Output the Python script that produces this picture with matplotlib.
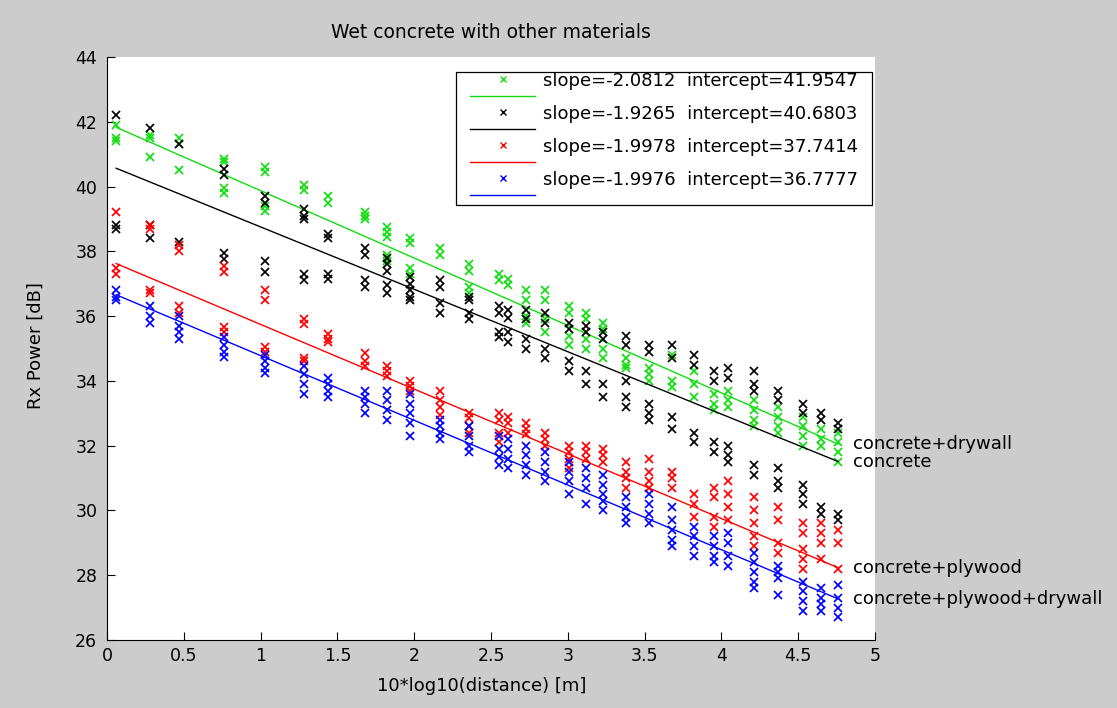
import matplotlib
matplotlib.use("Agg")
import matplotlib.pyplot as plt
from matplotlib.patches import Rectangle
from matplotlib.transforms import IdentityTransform
import numpy as np

plt.rcParams['font.family'] = ['DejaVu Sans']

title = "Wet concrete with other materials"
xlabel = "10*log10(distance) [m]"
ylabel = "Rx Power [dB]"
series_names = ["concrete+drywall", "concrete", "concrete+plywood", "concrete+plywood+drywall"]
series_colors = ["#11dd11", "#000000", "#ff0000", "#0000ff"]
slopes = [-2.0812, -1.9265, -1.9978, -1.9976]
intercepts = [41.9547, 40.6803, 37.7414, 36.7777]

x_vals = [0.06, 0.28, 0.47, 0.76, 1.03, 1.28, 1.44, 1.68, 1.82, 1.97, 2.17, 2.36, 2.55, 2.61, 2.73,
          2.85, 3.01, 3.12, 3.23, 3.38, 3.53, 3.68, 3.82, 3.95, 4.04, 4.21, 4.37, 4.53, 4.65, 4.76]

green_y = [
    [41.9, 41.5, 41.4], [41.6, 41.5, 40.9], [41.5, 41.3, 40.5], [40.85, 40.75, 39.95, 39.8],
    [40.6, 40.45, 39.4, 39.25], [40.05, 39.9], [39.7, 39.5], [39.2, 39.1, 39.0],
    [38.75, 38.6, 38.45, 37.9, 37.7], [38.4, 38.25, 37.5, 37.3], [38.1, 37.9], [37.6, 37.4, 36.9, 36.7],
    [37.3, 37.1], [37.15, 36.95], [36.8, 36.5, 36.0, 35.8], [36.8, 36.5, 35.9, 35.5],
    [36.3, 36.1, 35.4, 35.1], [36.1, 35.9, 35.3, 35.0], [35.8, 35.6, 35.0, 34.7], [34.7, 34.5, 34.4],
    [34.4, 34.2, 34.0], [34.8, 34.0, 33.8], [34.3, 33.9, 33.5], [33.6, 33.3, 33.1],
    [33.7, 33.4, 33.2], [33.4, 33.1, 32.8, 32.6], [33.2, 32.9, 32.6, 32.4], [32.9, 32.6, 32.3, 32.0],
    [32.5, 32.2, 32.0], [32.4, 32.1, 31.8, 31.5]]

black_y = [
    [42.2, 38.8, 38.7], [41.8, 38.8, 38.4], [41.3, 38.3], [40.55, 40.35, 37.95, 37.75],
    [39.7, 39.5, 37.7, 37.35], [39.3, 39.1, 39.0, 37.3, 37.1], [38.55, 38.4, 37.3, 37.15],
    [38.1, 37.9, 37.1, 36.9], [37.8, 37.6, 37.4, 36.95, 36.7], [37.2, 37.0, 36.8, 36.6, 36.5],
    [37.1, 36.9, 36.4, 36.1], [36.6, 36.5, 36.1, 35.9], [36.3, 36.1, 35.5, 35.35],
    [36.2, 35.95, 35.5, 35.2], [36.2, 35.9, 35.3, 35.0], [36.1, 35.8, 35.0, 34.7],
    [35.8, 35.6, 34.6, 34.3], [35.7, 35.5, 34.3, 33.9], [35.5, 35.3, 33.9, 33.5],
    [35.4, 35.1, 34.0, 33.5, 33.2], [35.1, 34.9, 33.3, 33.0, 32.8], [35.1, 34.7, 32.9, 32.5],
    [34.8, 34.5, 32.4, 32.1], [34.3, 34.0, 32.1, 31.8], [34.4, 34.1, 32.0, 31.7, 31.5],
    [34.3, 33.9, 33.7, 31.4, 31.1], [33.7, 33.4, 31.3, 30.9, 30.7], [33.3, 33.0, 30.8, 30.5, 30.2],
    [33.0, 32.8, 30.1, 29.9], [32.7, 32.5, 29.9, 29.7]]

red_y = [
    [39.2, 37.5, 37.3], [38.8, 38.7, 36.8, 36.7], [38.2, 38.0, 36.3, 36.1], [37.55, 37.35, 35.65, 35.5],
    [36.8, 36.5, 35.05, 34.9], [35.9, 35.75, 34.7, 34.6], [35.45, 35.3, 35.2], [34.85, 34.6, 34.45],
    [34.45, 34.3, 34.15], [34.0, 33.85, 33.7], [33.7, 33.4, 33.2, 32.95], [33.0, 32.85, 32.6, 32.4],
    [33.0, 32.8, 32.4, 32.1], [32.9, 32.7, 32.4], [32.7, 32.5, 32.35], [32.4, 32.2, 32.0],
    [32.0, 31.8, 31.6, 31.3], [32.0, 31.8, 31.6], [31.9, 31.7, 31.5], [31.5, 31.2, 31.0, 30.7],
    [31.6, 31.2, 30.9, 30.7], [31.2, 31.0, 30.7], [30.5, 30.2, 29.8], [30.7, 30.4, 29.8, 29.5],
    [30.9, 30.5, 30.1, 29.7], [30.4, 30.0, 29.6, 29.2, 28.9], [30.1, 29.7, 29.0, 28.7],
    [29.6, 29.3, 28.8, 28.5, 28.2], [29.6, 29.3, 29.0, 28.5], [29.4, 29.0, 28.2]]

blue_y = [
    [36.8, 36.6, 36.5], [36.3, 36.0, 35.8], [36.0, 35.7, 35.5, 35.3], [35.35, 35.1, 34.9, 34.75],
    [34.8, 34.6, 34.4, 34.25], [34.45, 34.2, 33.9, 33.6], [34.1, 33.9, 33.7, 33.5], [33.7, 33.5, 33.3, 33.0],
    [33.7, 33.4, 33.1, 32.8], [33.6, 33.3, 33.0, 32.7, 32.3], [32.8, 32.6, 32.4, 32.2], [32.6, 32.3, 32.0, 31.8],
    [32.3, 31.9, 31.65, 31.4], [32.2, 31.9, 31.6, 31.3], [32.0, 31.7, 31.4, 31.1], [31.8, 31.5, 31.2, 30.9],
    [31.5, 31.2, 30.9, 30.5], [31.3, 31.0, 30.7, 30.2], [31.1, 30.8, 30.5, 30.3, 30.0], [30.4, 30.1, 29.8, 29.6],
    [30.5, 30.2, 29.9, 29.6], [30.1, 29.7, 29.4, 29.1, 28.9], [29.5, 29.2, 28.9, 28.6], [29.2, 28.9, 28.6, 28.4],
    [29.3, 29.0, 28.6, 28.3], [28.7, 28.4, 28.1, 27.8, 27.6], [28.3, 28.1, 27.9, 27.4], [27.8, 27.5, 27.2, 26.9],
    [27.6, 27.3, 27.1, 26.9], [27.7, 27.3, 27.0, 26.7]]

x_ticks = [0, 0.5, 1, 1.5, 2, 2.5, 3, 3.5, 4, 4.5, 5]
x_ticklabels = ["0", "0.5", "1", "1.5", "2", "2.5", "3", "3.5", "4", "4.5", "5"]
y_ticks = [26, 28, 30, 32, 34, 36, 38, 40, 42, 44]

W, H = 1117, 708
fig = plt.figure(figsize=(W / 100, H / 100), dpi=100, facecolor="#cccccc")
ax = fig.add_axes([107 / W, 68 / H, 768 / W, 583 / H])
ax.set_facecolor("white")

all_y = [green_y, black_y, red_y, blue_y]
handles = []
labels = []
xline = np.array([min(x_vals), max(x_vals)])
for ys, col, s, b, name in zip(all_y, series_colors, slopes, intercepts, series_names):
    px = [x for x, col_vals in zip(x_vals, ys) for _ in col_vals]
    py = [v for col_vals in ys for v in col_vals]
    mk, = ax.plot(px, py, linestyle="none", marker="x", markersize=6.3, markeredgewidth=1.25, color=col)
    ln, = ax.plot(xline, s * xline + b, color=col, linewidth=1.0)
    handles += [mk, ln]
    labels += [f"slope={s:.4f}  intercept={b:.4f}", ""]
    yend = s * xline[-1] + b
    ax.text(xline[-1] + 0.095, yend, name, fontsize=13, va="center", ha="left", clip_on=False)

ax.set_xlim(0, 5)
ax.set_ylim(26, 44)
ax.set_xticks(x_ticks)
ax.set_xticklabels(x_ticklabels)
ax.set_yticks(y_ticks)
ax.tick_params(direction="in", length=6, width=0.8, labelsize=12.5, top=False, right=False)
ax.tick_params(axis="y", pad=7)
ax.tick_params(axis="x", pad=5)
for sp in ["top", "right"]:
    ax.spines[sp].set_visible(False)
for sp in ["left", "bottom"]:
    ax.spines[sp].set_linewidth(0.8)

ax.set_title(title, fontsize=13.5, y=(640 - 38) / 583, pad=0)
ax.set_xlabel(xlabel, fontsize=13)
ax.xaxis.set_label_coords((482 - 107) / 768, (640 - 677) / 583)
ax.set_ylabel(ylabel, fontsize=13)
ax.yaxis.set_label_coords((45 - 107) / 768, (640 - 346) / 583)

leg = ax.legend(handles, labels, loc="upper right",
                bbox_to_anchor=(858 / W, (H - 71.7) / H), bbox_transform=fig.transFigure,
                frameon=False, fontsize=13, borderpad=0, borderaxespad=0,
                labelspacing=-0.083, handlelength=3.6, handletextpad=0.44, markerscale=0.75)
for h in leg.legend_handles:
    if h.get_marker() not in (None, "None", ""):
        h.set_markeredgewidth(1.0)

fig.canvas.draw()
bb = leg.get_window_extent()
rect = Rectangle((bb.x0 - 14, bb.y0), bb.width + 28, bb.height, transform=IdentityTransform(),
                 fill=True, facecolor="white", edgecolor="black", linewidth=0.9, zorder=4)
ax.add_artist(rect)
leg.set_zorder(5)

fig.savefig("out.png", dpi=100, facecolor=fig.get_facecolor())
